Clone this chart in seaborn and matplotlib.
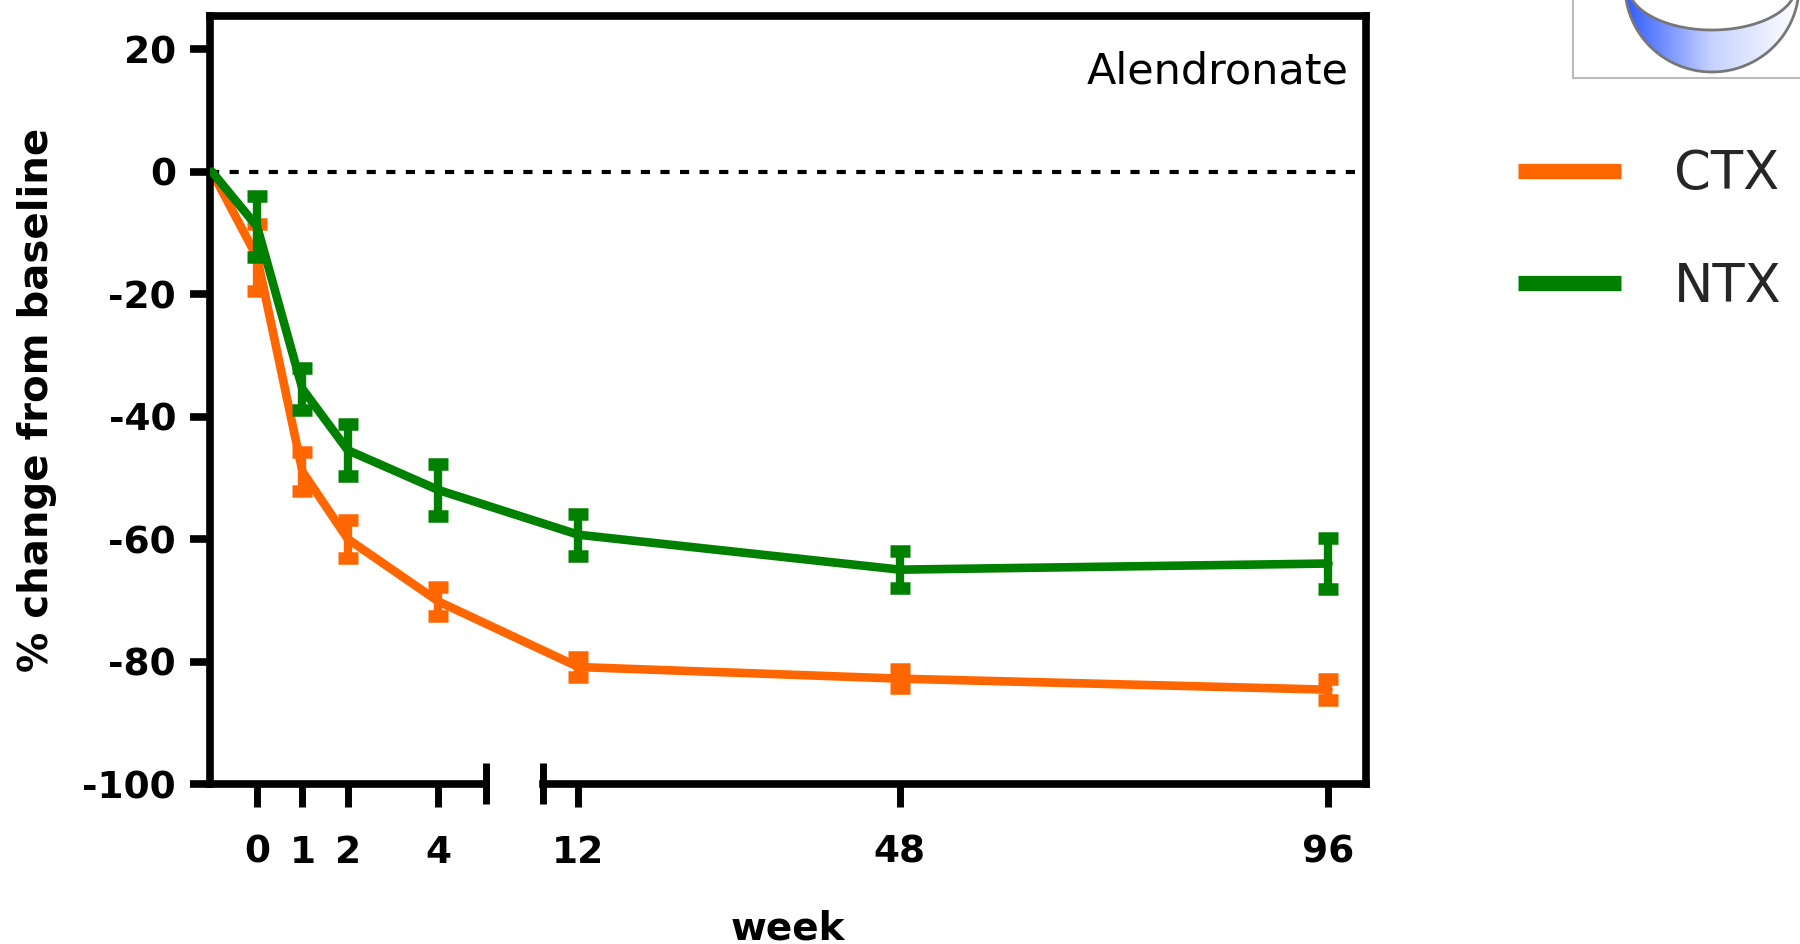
import numpy as np
import pandas as pd
import matplotlib
matplotlib.use("Agg")
import matplotlib.pyplot as plt
import seaborn as sns
from matplotlib.lines import Line2D
from matplotlib.patches import Rectangle, Polygon
from matplotlib.colors import LinearSegmentedColormap

# ---------------- data ----------------
weeks = [-1, 0, 1, 2, 4, 12, 48, 96]          # -1 = baseline start point
ctx_mean = [0, -14, -49, -60, -70.2, -80.9, -82.8, -84.6]
ctx_err = [0, 5.5, 3.2, 3.1, 2.4, 1.6, 1.6, 1.7]
ntx_mean = [0, -9, -35.5, -45.5, -52, -59.3, -65, -64]
ntx_err = [0, 5.0, 3.5, 4.2, 4.2, 3.4, 3.0, 4.1]
tick_weeks = [0, 1, 2, 4, 12, 48, 96]
y_ticks = [20, 0, -20, -40, -60, -80, -100]
series = ["CTX", "NTX"]
colors = {"CTX": "#FF6600", "NTX": "#008000"}
panel_title = "Alendronate"
x_label = "week"
y_label = "% change from baseline"

df = pd.concat([
    pd.DataFrame({"week": weeks, "value": ctx_mean, "err": ctx_err, "series": "CTX"}),
    pd.DataFrame({"week": weeks, "value": ntx_mean, "err": ntx_err, "series": "NTX"}),
], ignore_index=True)

# ---------------- style ----------------
sns.set_style("white")
plt.rcParams["font.family"] = ["DejaVu Sans"]

W_PX, H_PX, DPI = 1800, 944, 100
fig = plt.figure(figsize=(W_PX / DPI, H_PX / DPI), dpi=DPI)
ax = fig.add_axes([210 / W_PX, 1 - 784 / H_PX, (1366 - 210) / W_PX, (784 - 16) / H_PX])

# broken x axis: piecewise-linear scale
BRK_LO, BRK_HI, GAP, SLOPE = 5.06, 8.0, 1.24, 0.197
kw = np.array([-100.0, BRK_LO, BRK_HI, 1000.0])
kf = np.array([-100.0, BRK_LO, BRK_LO + GAP, BRK_LO + GAP + (1000.0 - BRK_HI) * SLOPE])


def fwd(w):
    return np.interp(w, kw, kf)


def inv(f):
    return np.interp(f, kf, kw)


XMIN, XMAX = -1.04, 100.2
YMIN, YMAX = -100, 25.4

sns.lineplot(data=df, x="week", y="value", hue="series", hue_order=series,
             palette=colors, linewidth=6.2, legend=False, ax=ax, sort=False,
             errorbar=None)
for i, ln in enumerate(ax.lines):
    ln.set_zorder(2 + 2 * i)
    ln.set_solid_capstyle("round")
    ln.set_solid_joinstyle("round")

for i, s in enumerate(series):
    d = df[(df["series"] == s) & (df["week"] >= 0)]
    ax.errorbar(d["week"], d["value"], yerr=d["err"], fmt="none",
                ecolor=colors[s], elinewidth=6, capsize=7, capthick=9,
                zorder=3 + 2 * i)

ax.axhline(0, color="black", lw=3, ls=(0, (2.2, 2.5)), zorder=1)

ax.set_xscale("function", functions=(fwd, inv))

# spines
for side in ["left", "top", "right", "bottom"]:
    ax.spines[side].set_visible(True)
    ax.spines[side].set_color("black")
    ax.spines[side].set_linewidth(5.5)
ax.spines["bottom"].set_bounds(XMIN, BRK_LO)
ax.plot([BRK_HI, XMAX], [YMIN, YMIN], color="black", lw=5.5, clip_on=False,
        solid_capstyle="projecting", zorder=10)
for xb in (BRK_LO, BRK_HI):
    ax.plot([xb, xb], [YMIN - 3.2, YMIN + 3.4], color="black", lw=5,
            clip_on=False, solid_capstyle="butt", zorder=10)

ax.set_xlim(XMIN, XMAX)
ax.set_ylim(YMIN, YMAX)

ax.set_xticks(tick_weeks)
ax.set_xticklabels([str(t) for t in tick_weeks])
ax.set_yticks(y_ticks)
ax.set_yticklabels([str(t) for t in y_ticks])
ax.xaxis.set_minor_locator(matplotlib.ticker.NullLocator())
ax.tick_params(axis="y", direction="out", length=14.4, width=5.5, pad=10,
               labelsize=27, colors="black", left=True)
ax.tick_params(axis="x", direction="out", length=16.5, width=5, pad=20,
               labelsize=27, colors="black", bottom=True)
for lbl in ax.get_xticklabels() + ax.get_yticklabels():
    lbl.set_fontweight("bold")

ax.set_xlabel(x_label, fontsize=28, fontweight="bold", color="black")
ax.xaxis.set_label_coords(0.5, -0.163)
ax.set_ylabel(y_label, fontsize=29, fontweight="bold", color="black")
ax.yaxis.set_label_coords(-0.132, 0.5)

ax.text(0.985, 0.955, panel_title, transform=ax.transAxes, ha="right",
        va="top", fontsize=31, color="black")

# legend
handles = [Line2D([0], [0], color=colors[s], lw=11, solid_capstyle="butt")
           for s in series]
fig.legend(handles, series, loc="upper left",
           bbox_to_anchor=(1518 / W_PX, 1 - 148 / H_PX), frameon=False,
           fontsize=38, handlelength=1.95, handletextpad=1.0,
           labelspacing=1.15, borderpad=0, borderaxespad=0)

# logo fragment (top-right corner)
ov = fig.add_axes([0, 0, 1, 1], zorder=-1)
ov.set_xlim(0, W_PX)
ov.set_ylim(H_PX, 0)
ov.axis("off")
ov.add_patch(Rectangle((1573, -10), 300, 88, fill=False, ec="#BBBBBB", lw=1.5))
th = np.linspace(np.pi, 2 * np.pi, 80)
outer = np.column_stack([1712 + 87 * np.cos(th), -14 - 86 * np.sin(th)])
inner = np.column_stack([1712 + 84 * np.cos(th[::-1]), -14 - 44 * np.sin(th[::-1])])
cres = Polygon(np.vstack([outer, inner]), closed=True, fc="none", ec="#777777", lw=2)
ov.add_patch(cres)
grad = np.linspace(0, 1, 256).reshape(1, -1)
cmap = LinearSegmentedColormap.from_list("bw", ["#2F5BFF", "#C8D2FF", "#FFFFFF"])
im = ov.imshow(grad, extent=[1625, 1800, 75, -20], cmap=cmap, aspect="auto")
im.set_clip_path(cres)

fig.savefig("out.png", dpi=DPI)
